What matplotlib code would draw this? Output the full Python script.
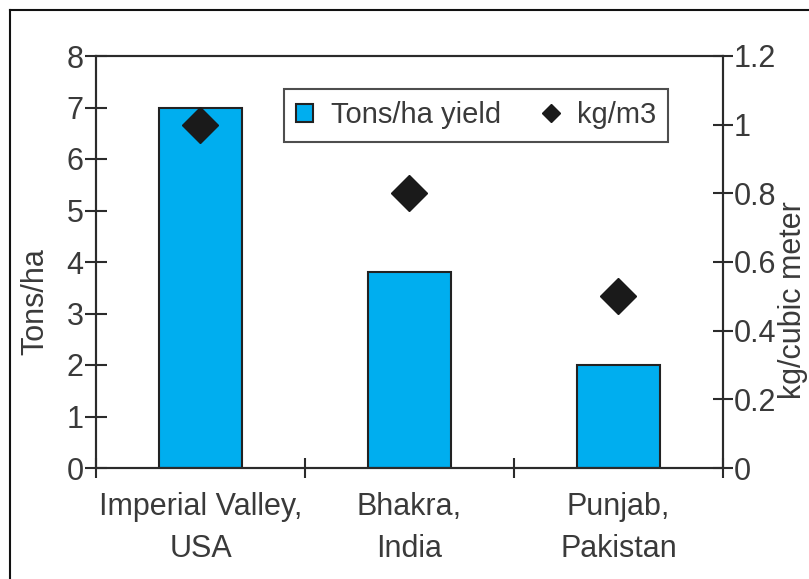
import matplotlib.pyplot as plt
from matplotlib.lines import Line2D

plt.rcParams['font.family'] = ['Liberation Sans', 'DejaVu Sans']

sites = ['Imperial Valley,\nUSA', 'Bhakra,\nIndia', 'Punjab,\nPakistan']
yield_tons = [7.0, 3.8, 2.0]
water_prod = [1.0, 0.8, 0.5]

txt = '#3a3a3a'
ax_col = '#2b2b2b'
fs = 22

fig = plt.figure(figsize=(8.09, 5.79), dpi=100)
ax = fig.add_axes([96/809, 1-468/579, (723-96)/809, (468-56)/579])
ax2 = ax.twinx()

x = range(len(sites))
ax.bar(x, yield_tons, width=0.4, color='#00aeef', edgecolor='#222222', linewidth=1.5,
       label='Tons/ha yield', zorder=2)
ax2.plot(x, water_prod, linestyle='none', marker='D', markersize=18, color='#1a1a1a',
         label='kg/m3')

ax.set_xlim(-0.5, 2.5)
ax.set_ylim(0, 8)
ax2.set_ylim(0, 1.2)
ax.set_yticks(range(0, 9))
ax2.set_yticks([0, 0.2, 0.4, 0.6, 0.8, 1, 1.2])
ax2.set_yticklabels(['0', '0.2', '0.4', '0.6', '0.8', '1', '1.2'])
ax.set_xticks(list(x))
ax.set_xticklabels(sites, linespacing=1.55)
ax.set_xticks([-0.5, 0.5, 1.5, 2.5], minor=True)

ax.tick_params(axis='x', which='major', length=0, pad=17, labelsize=fs, labelcolor=txt)
ax.tick_params(axis='x', which='minor', direction='inout', length=14, width=1.5, color=ax_col)
ax.tick_params(axis='y', direction='inout', length=16, width=1.5, color=ax_col,
               labelsize=fs, labelcolor=txt, pad=1)
ax2.tick_params(axis='y', direction='inout', length=14, width=1.5, color=ax_col,
                labelsize=fs, labelcolor=txt, pad=1)

for a in (ax, ax2):
    for s in a.spines.values():
        s.set_linewidth(1.5)
        s.set_color(ax_col)

ax.set_ylabel('Tons/ha', fontsize=fs, color=txt)
ax.yaxis.set_label_coords(-0.072, 0.405)
ax2.set_ylabel('kg/cubic meter', fontsize=fs, color=txt)
ax2.yaxis.set_label_coords(1.087, 0.408)

h1, l1 = ax.get_legend_handles_labels()
h2 = [Line2D([], [], linestyle='none', marker='D', markersize=9, color='#1a1a1a')]
l2 = ['kg/m3']
leg = fig.legend(h1 + h2, l1 + l2, ncol=2, loc='upper center',
                 bbox_to_anchor=(476/809, 1-89/579), borderaxespad=0, fontsize=fs - 1,
                 frameon=True, fancybox=False, edgecolor='#222222', handlelength=0.6,
                 handleheight=0.6, handletextpad=0.6, columnspacing=1.4,
                 borderpad=0.42, labelcolor=txt)
leg.get_frame().set_linewidth(1.5)

# outer frame (clipped at right and bottom like the source)
fig.add_artist(Line2D([10/809, 1], [1-10/579, 1-10/579], color='#111111', lw=1.5))
fig.add_artist(Line2D([10/809, 10/809], [0, 1-10/579], color='#111111', lw=1.5))

fig.savefig('out.png', dpi=100)
